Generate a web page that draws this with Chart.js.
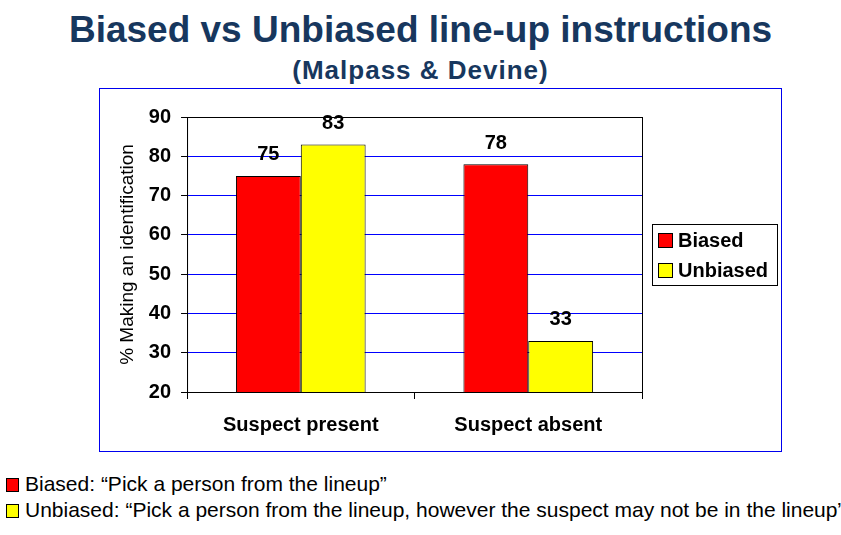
<!DOCTYPE html>
<html>
<head>
<meta charset="utf-8">
<script src="https://cdn.jsdelivr.net/npm/chart.js@4"></script>
<style>
  body { margin: 0; background: #fff; font-family: "Liberation Sans", Arial, sans-serif; }
  #page { position: relative; width: 841px; height: 535px; overflow: hidden; }
  #title { position: absolute; left: 0; width: 841px; top: 8px; text-align: center; line-height: 44px;
           font-weight: bold; font-size: 37px; color: #17375e; }
  #subtitle { position: absolute; left: 0; width: 841px; top: 55px; text-align: center; line-height: 30px;
              font-weight: bold; font-size: 26px; letter-spacing: 1px; color: #17375e; }
  #box { position: absolute; left: 99px; top: 88px; width: 683px; height: 364px;
         box-sizing: border-box; border: 1px solid #0000ee; }
  .note { position: absolute; left: 6px; font-size: 21px; line-height: 24px; color: #000; white-space: nowrap; }
  .sw { display: inline-block; width: 11px; height: 12px; border: 1px solid #000;
        vertical-align: -1px; margin-right: 6px; }
</style>
</head>
<body>
<div id="page">
  <div id="title">Biased vs Unbiased line-up instructions</div>
  <div id="subtitle">(Malpass &amp; Devine)</div>
  <div id="box"><canvas id="chart" width="681" height="362"></canvas></div>
  <div class="note" style="top:472px"><span class="sw" style="background:#ff0000"></span>Biased: “Pick a person from the lineup”</div>
  <div class="note" style="top:498px"><span class="sw" style="background:#ffff00"></span>Unbiased: “Pick a person from the lineup, however the suspect may not be in the lineup”</div>
</div>
<script>
// values
const categories = ['Suspect present', 'Suspect absent'];
const seriesNames = ['Biased', 'Unbiased'];
const biased = [75, 78];
const unbiased = [83, 33];
const yTicks = [20, 30, 40, 50, 60, 70, 80, 90];

const FONT = '"Liberation Sans", Arial';

// plot frame, boxed legend on the right, numbers above the bars
const framePlugin = {
    id: 'frame',
    afterDraw(chart) {
        const ctx = chart.ctx;
        const a = chart.chartArea;
        ctx.save();
        ctx.strokeStyle = '#000';
        ctx.lineWidth = 1;
        ctx.strokeRect(a.left + 0.5, a.top + 0.5, a.right - a.left, a.bottom - a.top);

        // data labels
        ctx.fillStyle = '#000';
        ctx.font = 'bold 20px ' + FONT;
        ctx.textAlign = 'center';
        ctx.textBaseline = 'middle';
        chart.data.datasets.forEach((ds, i) => {
            chart.getDatasetMeta(i).data.forEach((bar, j) => {
                ctx.fillText(ds.data[j], bar.x, bar.y - 21);
            });
        });

        // legend
        const sets = chart.data.datasets;
        ctx.font = 'bold 20px ' + FONT;
        let textW = 0;
        sets.forEach(ds => { textW = Math.max(textW, ctx.measureText(ds.label).width); });
        const rowH = 30;
        const lx = Math.round(a.right + 10);
        const lw = 26 + textW + 9;
        const lh = rowH * sets.length + 1;
        const cy = (a.top + a.bottom) / 2;
        const ly = Math.round(cy - lh / 2);
        ctx.strokeRect(lx + 0.5, ly + 0.5, Math.round(lw), lh);
        ctx.textAlign = 'left';
        sets.forEach((ds, i) => {
            const ry = ly + 1 + rowH * i + rowH / 2;
            ctx.fillStyle = ds.backgroundColor;
            ctx.fillRect(lx + 6, Math.round(ry - 7), 15, 15);
            ctx.strokeRect(lx + 6.5, Math.round(ry - 7) + 0.5, 14, 14);
            ctx.fillStyle = '#000';
            ctx.fillText(ds.label, lx + 26, ry + 1);
        });
        ctx.restore();
    }
};

new Chart(document.getElementById('chart'), {
    type: 'bar',
    data: {
        labels: categories,
        datasets: [
            { label: seriesNames[0], data: biased, backgroundColor: '#ff0000', borderColor: '#000', borderWidth: 1, borderSkipped: false },
            { label: seriesNames[1], data: unbiased, backgroundColor: '#ffff00', borderColor: '#000', borderWidth: 1, borderSkipped: false }
        ]
    },
    options: {
        responsive: false,
        animation: false,
        categoryPercentage: 0.57,
        barPercentage: 1.0,
        layout: { padding: { top: 28, left: 4, right: 139, bottom: 0 } },
        plugins: {
            title: { display: false },
            tooltip: { enabled: false },
            legend: { display: false }
        },
        scales: {
            x: {
                grid: { drawOnChartArea: false, color: '#000', tickColor: '#000', tickLength: 7, offset: true },
                border: { color: '#000' },
                ticks: { color: '#000', padding: 14, font: { family: FONT, size: 20, weight: 'bold' } }
            },
            y: {
                min: yTicks[0],
                max: yTicks[yTicks.length - 1],
                afterBuildTicks: (axis) => { axis.ticks = yTicks.map(v => ({ value: v })); },
                grid: {
                    color: (c) => (c.tick && (c.tick.value === 90 || c.tick.value === 20)) ? '#000' : '#0000ff',
                    tickColor: '#000',
                    tickLength: 6
                },
                border: { color: '#000' },
                ticks: { color: '#000', padding: 10, font: { family: FONT, size: 20, weight: 'bold' } },
                title: {
                    display: true,
                    text: '% Making an identification',
                    color: '#000',
                    font: { family: FONT, size: 19 },
                    padding: { top: 12, bottom: 0 }
                }
            }
        }
    },
    plugins: [framePlugin]
});
</script>
</body>
</html>
